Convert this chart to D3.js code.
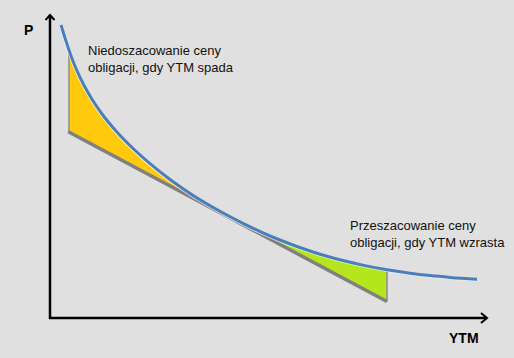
<!DOCTYPE html>
<html>
<head>
<meta charset="utf-8">
<script src="https://cdn.jsdelivr.net/npm/d3@7"></script>
<style>
  html, body { margin: 0; padding: 0; background: #e0e0e0; }
  svg { display: block; }
  text { font-family: Arial, "Liberation Sans", sans-serif; }
</style>
</head>
<body>
<svg id="chart" width="514" height="358"></svg>
<script>
// ---- data (YTM in %, price in arbitrary units) ----
const curveYTM   = [0.275, 0.375, 0.475, 0.6, 0.75, 1.0, 1.3, 1.65, 2.05, 2.5, 3.0, 3.55, 4.125, 4.375, 4.875, 5.325, 5.75, 6.175, 6.75, 7.375, 7.875, 8.425, 9.0, 9.5, 10.0, 10.675];
const curvePrice = [146.5, 139.95, 133.85, 127.15, 120.35, 110.95, 102, 93.5, 85.25, 77.15, 69.25, 61.65, 54.75, 52, 46.85, 42.6, 39, 35.75, 31.9, 28.5, 26.2, 24.1, 22.35, 21.2, 20.3, 19.35];
const tangentYTM   = [0.4575, 8.425];
const tangentPrice = [93.15, 8.25];
const underRange = [0.475, 4.375];   // Niedoszacowanie (yellow)
const overRange  = [4.375, 8.425];   // Przeszacowanie (green)
const labelsUnder = ["Niedoszacowanie ceny", "obligacji, gdy YTM spada"];
const labelsOver  = ["Przeszacowanie ceny", "obligacji, gdy YTM wzrasta"];
const axisLabelX = "YTM";
const axisLabelY = "P";

const svg = d3.select("#chart");
const x = d3.scaleLinear().domain([0, 11]).range([50, 490]);
const y = d3.scaleLinear().domain([0, 150]).range([318, 18]);

const curvePts = curveYTM.map((v, i) => ({ ytm: v, p: curvePrice[i] }));
const tangentAt = t => tangentPrice[0] + (tangentPrice[1] - tangentPrice[0]) * (t - tangentYTM[0]) / (tangentYTM[1] - tangentYTM[0]);

function band(range) {
  return curvePts.filter(d => d.ytm >= range[0] - 1e-9 && d.ytm <= range[1] + 1e-9);
}
const area = d3.area()
  .x(d => x(d.ytm))
  .y0(d => y(tangentAt(d.ytm)))
  .y1(d => y(d.p))
  .curve(d3.curveMonotoneX);

svg.append("path").datum(band(underRange)).attr("d", area).attr("fill", "#ffc90e");
svg.append("path").datum(band(overRange)).attr("d", area).attr("fill", "#b5e61d");

// vertical gray edges
const uStart = band(underRange)[0];
svg.append("line")
  .attr("x1", x(uStart.ytm)).attr("x2", x(uStart.ytm))
  .attr("y1", y(uStart.p)).attr("y2", y(tangentAt(uStart.ytm)))
  .attr("stroke", "#8c8c8c").attr("stroke-width", 1.5);
const oEnd = band(overRange).slice(-1)[0];
svg.append("line")
  .attr("x1", x(oEnd.ytm)).attr("x2", x(oEnd.ytm))
  .attr("y1", y(oEnd.p)).attr("y2", y(tangentAt(oEnd.ytm)))
  .attr("stroke", "#8c8c8c").attr("stroke-width", 1.5);

// tangent line
svg.append("line")
  .attr("x1", x(tangentYTM[0])).attr("y1", y(tangentPrice[0]))
  .attr("x2", x(tangentYTM[1])).attr("y2", y(tangentPrice[1]))
  .attr("stroke", "#808080").attr("stroke-width", 3.5);

// price-yield curve
const line = d3.line().x(d => x(d.ytm)).y(d => y(d.p)).curve(d3.curveMonotoneX);
svg.append("path").datum(curvePts).attr("d", line)
  .attr("fill", "none").attr("stroke", "#ffffff").attr("stroke-width", 2)
  .attr("stroke-opacity", 0.7)
  .attr("transform", "translate(-1,1)");
svg.append("path").datum(curvePts).attr("d", line)
  .attr("fill", "none").attr("stroke", "#4a7ebb").attr("stroke-width", 3);

// axes
const x0 = x(0), yb = y(0);
svg.append("line").attr("x1", x0).attr("y1", yb + 1).attr("x2", x0).attr("y2", 15)
  .attr("stroke", "#000").attr("stroke-width", 2.5);
svg.append("line").attr("x1", x0 - 1).attr("y1", yb).attr("x2", 487).attr("y2", yb)
  .attr("stroke", "#000").attr("stroke-width", 2.5);
svg.append("path").attr("d", `M${x0 - 4.5},20 L${x0},15 L${x0 + 4.5},20`)
  .attr("fill", "none").attr("stroke", "#000").attr("stroke-width", 2);
svg.append("path").attr("d", `M481,${yb - 5} L487,${yb} L481,${yb + 5}`)
  .attr("fill", "none").attr("stroke", "#000").attr("stroke-width", 2);

// axis labels
svg.append("text").attr("x", 24).attr("y", 35).text(axisLabelY)
  .attr("font-size", 14).attr("font-weight", "bold").attr("fill", "#000");
svg.append("text").attr("x", 449).attr("y", 343).text(axisLabelX)
  .attr("font-size", 14).attr("font-weight", "bold").attr("fill", "#000");

// annotations
labelsUnder.forEach((t, i) => svg.append("text").attr("x", 88).attr("y", 55 + i * 17)
  .attr("font-size", 13).attr("fill", "#111").text(t));
labelsOver.forEach((t, i) => svg.append("text").attr("x", 350).attr("y", 230 + i * 16.5)
  .attr("font-size", 13).attr("fill", "#111").text(t));
</script>
</body>
</html>
